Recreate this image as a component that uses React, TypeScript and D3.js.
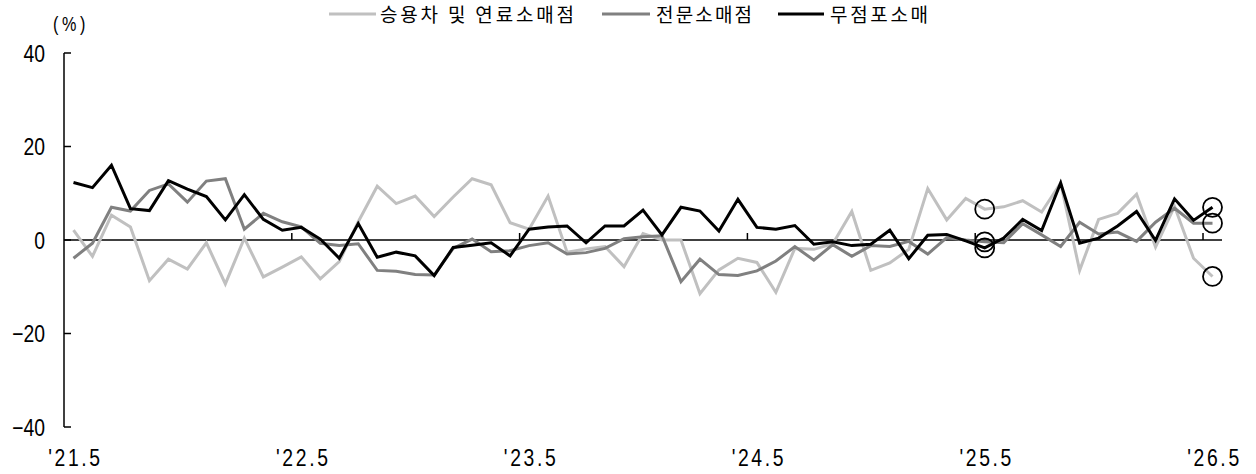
import React from "react";
import * as d3 from "d3";

// Monthly categories from 2021.5 to 2026.5
const startYear = 21;
const startMonth = 5;
const monthCount = 61;
const categories: string[] = Array.from({ length: monthCount }, (_, k) => {
  const m0 = startMonth - 1 + k;
  return `${startYear + Math.floor(m0 / 12)}.${(m0 % 12) + 1}`;
});

const tickLabels = ["'21.5", "'22.5", "'23.5", "'24.5", "'25.5", "'26.5"];
const tickCategories = ["21.5", "22.5", "23.5", "24.5", "25.5", "26.5"];
const yTicks = [40, 20, 0, -20, -40];

const seriesNames = ["승용차 및 연료소매점", "전문소매점", "무점포소매"];

const carFuel = [
  2.1, -3.5, 5.3, 2.8, -8.7, -4.1, -6.2, -0.6, -9.4, 0.4, -7.9, -5.8,
  -3.6, -8.3, -4.6, 3.9, 11.5, 7.8, 9.4, 5.0, 9.2, 13.1, 11.8, 3.7,
  2.3, 9.4, -2.6, -1.9, -1.4, -5.7, 1.4, 0, 0, -11.5, -6.4, -3.9,
  -4.8, -11.2, -1.8, -2.0, -0.8, 6.1, -6.5, -4.9, -2.0, 11.0, 4.3, 8.9,
  6.6, 7.1, 8.4, 6.0, 12.2, -6.5, 4.4, 5.7, 9.8, -1.5, 7.2, -3.9,
  -7.8,
];

const specialty = [
  -3.9, -0.7, 7.0, 6.2, 10.6, 12.0, 8.1, 12.6, 13.1, 2.3, 5.7, 3.9,
  2.8, -0.7, -1.2, -0.8, -6.5, -6.7, -7.4, -7.5, -1.8, 0.2, -2.5, -2.3,
  -1.2, -0.6, -3.0, -2.7, -1.8, 0.3, 0.7, 0.9, -8.9, -4.1, -7.4, -7.6,
  -6.6, -4.5, -1.4, -4.3, -1.0, -3.5, -1.2, -1.4, -0.3, -3.0, 0.5, 0,
  -0.4, -0.6, 3.5, 1.1, -1.4, 3.8, 1.3, 1.7, -0.3, 3.8, 6.8, 3.6,
  3.6,
];

const nonStore = [
  12.3, 11.2, 16.0, 6.7, 6.3, 12.7, 10.9, 9.3, 4.3, 9.7, 4.4, 2.1,
  2.7, 0.2, -3.9, 3.5, -3.7, -2.6, -3.4, -7.6, -1.6, -1.1, -0.6, -3.4,
  2.3, 2.8, 3.0, -0.6, 3.0, 3.0, 6.4, 1.1, 7.0, 6.2, 1.9, 8.7,
  2.7, 2.3, 3.1, -0.9, -0.4, -1.2, -0.9, 2.1, -4.0, 1.0, 1.2, -0.2,
  -1.7, 0.4, 4.4, 2.0, 12.2, -0.7, 0.4, 3.0, 6.1, -0.1, 8.8, 4.2,
  7.0,
];

const highlighted = ["25.5", "26.5"];

const colors = ["#c0c0c0", "#808080", "#000000"];
const seriesData = [carFuel, specialty, nonStore];

const W = 1256;
const H = 474;
const fontNum = "'Liberation Sans', Arial, sans-serif";
const fontKr = "'Noto Sans CJK KR', 'Noto Sans', sans-serif";

export default function App() {
  const x = d3.scaleBand<string>().domain(categories).range([64, 1222]).padding(0);
  const bw = x.bandwidth();
  const cx = (c: string) => (x(c) as number) + bw / 2;
  const y = d3.scaleLinear().domain([-40, 40]).range([427, 53]);

  const line = d3
    .line<number>()
    .x((_, i) => cx(categories[i]))
    .y((d) => y(d));

  const legendItems = [
    { x1: 329, x2: 376, tx: 380, tw: 194 },
    { x1: 602, x2: 650, tx: 656, tw: 96 },
    { x1: 778, x2: 824, tx: 830, tw: 98 },
  ];

  return (
    <svg width={W} height={H} style={{ display: "block", position: "absolute", left: 0, top: 0 }}>
      <rect width={W} height={H} fill="#fff" />
      {/* unit */}
      <g transform="translate(53,31) scale(0.9,1.1)">
        <text x={0} y={0} fontFamily={fontNum} fontSize={18} letterSpacing={4} fill="#000">
          (%)
        </text>
      </g>
      {/* legend */}
      {legendItems.map((l, k) => (
        <g key={k}>
          <line x1={l.x1} x2={l.x2} y1={14} y2={14} stroke={colors[k]} strokeWidth={3} />
          <text
            x={l.tx}
            y={22}
            fontFamily={fontKr}
            fontSize={19}
            textLength={l.tw}
            lengthAdjust="spacing"
            fill="#000"
          >
            {seriesNames[k]}
          </text>
        </g>
      ))}
      {/* y axis */}
      <line x1={64} x2={64} y1={y(40)} y2={y(-40)} stroke="#000" strokeWidth={1.5} />
      {yTicks.map((t) => (
        <g key={t}>
          <line x1={64} x2={71} y1={y(t)} y2={y(t)} stroke="#000" strokeWidth={1.5} />
          <g transform={`translate(45,${y(t)}) scale(0.88,1.08)`}>
            <text
              x={0}
              y={0}
              dy="0.36em"
              textAnchor="end"
              fontFamily={fontNum}
              fontSize={22}
              fill="#000"
            >
              {t < 0 ? `−${Math.abs(t)}` : t}
            </text>
          </g>
        </g>
      ))}
      {/* zero line */}
      <line x1={64} x2={1222} y1={y(0)} y2={y(0)} stroke="#000" strokeWidth={1.5} />
      {tickCategories.slice(1).map((c) => (
        <line
          key={c}
          x1={x(c) as number}
          x2={x(c) as number}
          y1={y(0)}
          y2={y(0) - 7}
          stroke="#000"
          strokeWidth={1.5}
        />
      ))}
      {/* x labels */}
      {tickCategories.map((c, k) => (
        <g key={c} transform={`translate(${cx(c) + 2},466) scale(0.88,1.1)`}>
          <text
            x={0}
            y={0}
            textAnchor="middle"
            fontFamily={fontNum}
            fontSize={22}
            letterSpacing={3}
            fill="#000"
          >
            {tickLabels[k]}
          </text>
        </g>
      ))}
      {/* series */}
      {seriesData.map((s, k) => (
        <path
          key={k}
          d={line(s) || ""}
          fill="none"
          stroke={colors[k]}
          strokeWidth={3}
          strokeLinejoin="miter"
        />
      ))}
      {/* highlight circles */}
      {highlighted.map((c) => {
        const i = categories.indexOf(c);
        return seriesData.map((s, k) => (
          <circle
            key={`${c}-${k}`}
            cx={cx(c)}
            cy={y(s[i])}
            r={9.5}
            fill="none"
            stroke="#000"
            strokeWidth={1.8}
          />
        ));
      })}
    </svg>
  );
}
